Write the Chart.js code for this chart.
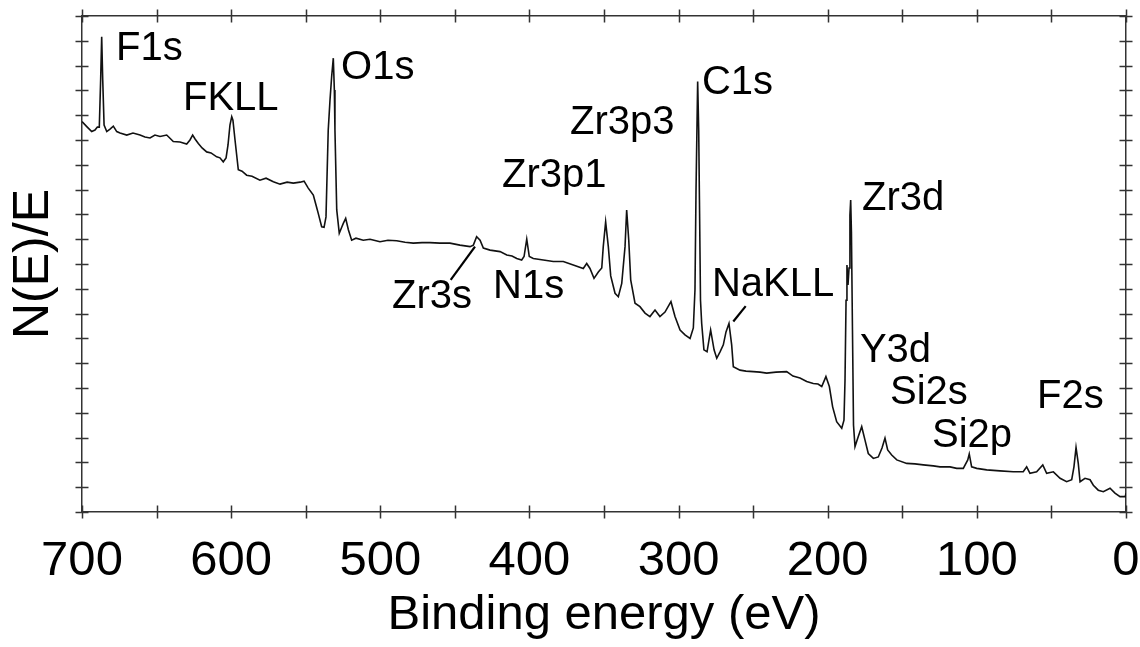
<!DOCTYPE html>
<html><head><meta charset="utf-8">
<script src="https://cdn.jsdelivr.net/npm/chart.js@4.4.0/dist/chart.umd.min.js"></script>
<style>html,body{margin:0;padding:0;background:#fff;} #wrap{width:1140px;height:647px;position:relative;}</style>
</head><body><div id="wrap"><canvas id="c"></canvas></div>
<script>
// Binding energy (eV)
const energy = [
700.0, 696.8, 693.5, 691.3, 689.7, 688.4, 687.5, 686.8, 686.1, 685.2,
683.4, 681.2, 679.0, 676.7, 674.5, 670.0, 665.8, 661.1, 657.8, 654.4,
651.1, 647.7, 643.2, 638.8, 634.3, 629.8, 627.6, 625.8, 624.2, 622.0,
619.5, 616.4, 613.5, 609.7, 607.5, 605.3, 603.4, 602.1, 600.8, 599.6,
598.8, 597.4, 595.2, 592.7, 589.6, 586.0, 580.7, 576.6, 571.7, 567.2,
562.5, 558.3, 553.8, 551.1, 548.3, 544.9, 543.1, 541.6, 539.3, 537.7,
536.4, 534.9, 533.7, 532.6, 531.5, 530.8, 530.4, 529.2, 527.5, 526.0,
524.8, 523.2, 521.4, 519.2, 516.3, 511.4, 506.9, 500.2, 494.8, 489.0,
483.4, 477.9, 472.0, 466.7, 460.0, 453.3, 446.6, 439.8, 437.6, 435.4,
433.1, 430.9, 426.4, 419.7, 415.2, 411.7, 408.5, 405.2, 403.6, 401.8,
400.1, 397.4, 390.7, 384.0, 377.3, 370.6, 363.9, 361.6, 359.4, 356.7,
353.8, 351.5, 350.5, 348.9, 347.1, 345.5, 342.6, 340.4, 338.1, 335.9,
334.8, 333.4, 332.1, 329.2, 325.9, 322.5, 319.2, 315.8, 312.5, 309.1,
305.1, 302.4, 299.0, 295.7, 292.3, 290.1, 289.0, 288.3, 287.2, 286.5,
286.0, 285.3, 284.5, 283.0, 280.9, 278.5, 276.2, 274.4, 272.2, 270.0,
268.2, 266.2, 264.4, 263.3, 258.8, 254.8, 249.9, 245.4, 240.9, 234.7,
227.5, 223.3, 218.6, 214.1, 209.7, 206.5, 204.0, 201.2, 198.9, 196.7,
194.0, 190.6, 189.1, 188.4, 187.7, 187.1, 186.4, 185.7, 185.1, 184.6,
184.1, 183.4, 182.7, 181.7, 179.5, 177.2, 175.0, 172.8, 169.4, 166.1,
163.6, 161.6, 159.8, 157.1, 153.7, 147.0, 141.5, 135.9, 129.2, 124.7,
118.0, 113.5, 109.1, 106.1, 105.1, 103.5, 100.1, 93.4, 84.5, 75.6,
68.9, 66.6, 64.4, 59.9, 55.8, 53.2, 48.7, 44.2, 39.8, 36.4,
34.9, 33.5, 32.0, 30.8, 27.5, 24.1, 21.9, 18.6, 15.2, 10.7,
7.4, 4.0, 0.5, 0.0
];
// N(E)/E, arbitrary units
const intensity = [
78.7, 77.7, 76.7, 77.0, 77.6, 77.6, 87.1, 95.8, 87.1, 78.0,
76.7, 77.2, 77.8, 76.7, 76.4, 76.0, 76.4, 76.0, 75.6, 75.4,
76.0, 75.7, 76.0, 74.7, 74.6, 74.2, 75.0, 76.0, 75.2, 74.3,
73.4, 72.6, 72.4, 71.6, 71.4, 70.6, 71.4, 74.0, 78.0, 79.7,
79.0, 75.0, 69.0, 68.7, 67.9, 67.7, 66.9, 67.3, 66.6, 66.1,
66.5, 66.3, 66.5, 66.7, 65.3, 63.9, 61.9, 60.2, 57.5, 57.4,
59.5, 77.0, 83.1, 87.8, 91.5, 85.1, 77.0, 60.9, 56.2, 57.3,
58.2, 59.2, 56.9, 54.8, 55.2, 54.8, 55.0, 54.5, 54.8, 54.7,
54.4, 54.2, 54.3, 54.3, 54.2, 54.2, 53.8, 53.5, 53.8, 55.5,
54.8, 53.2, 52.8, 52.5, 51.8, 51.6, 51.1, 50.8, 51.5, 55.0,
51.5, 51.1, 50.8, 50.5, 50.5, 49.8, 49.1, 50.1, 49.1, 47.1,
48.4, 49.2, 53.5, 58.5, 53.5, 47.6, 44.1, 43.4, 46.1, 53.5,
60.9, 54.8, 46.8, 42.1, 41.4, 40.1, 39.4, 40.7, 39.4, 40.3,
42.4, 39.4, 36.7, 35.7, 35.0, 37.1, 44.8, 64.9, 86.8, 77.0,
62.9, 42.7, 38.0, 32.7, 32.3, 36.7, 32.7, 31.0, 32.3, 33.7,
36.3, 38.0, 33.7, 29.3, 28.6, 28.4, 28.3, 28.2, 28.0, 28.2,
28.3, 27.4, 27.0, 26.3, 25.9, 25.8, 25.3, 27.3, 25.3, 21.2,
18.2, 16.9, 18.5, 26.6, 42.7, 49.8, 45.8, 49.2, 59.9, 62.9,
56.5, 36.7, 17.5, 13.2, 15.2, 17.2, 14.5, 11.8, 10.8, 11.1,
12.9, 14.9, 12.5, 11.5, 10.5, 9.8, 9.7, 9.5, 9.3, 9.1,
9.1, 8.8, 8.8, 10.5, 11.7, 9.1, 8.8, 8.5, 8.3, 8.1,
8.1, 9.1, 7.8, 8.1, 9.5, 7.8, 8.1, 6.8, 6.1, 6.5,
9.1, 13.0, 9.8, 6.1, 6.8, 6.5, 5.4, 4.4, 4.1, 4.8,
3.8, 3.1, 3.1, 3.8
];
const xTickLabels = [700, 600, 500, 400, 300, 200, 100, 0];
const peakNames = ['F1s','FKLL','O1s','Zr3p3','Zr3p1','C1s','Zr3d','NaKLL','N1s','Zr3s','Y3d','Si2s','Si2p','F2s'];

// annotation placement (data coords: energy, intensity) – layout only
const labelAnchors = [
  [677.2, 91.1], [632.3, 81.0], [526.3, 87.3], [372.8, 76.2], [418.4, 65.5],
  [284.3, 84.3], [177.0, 60.9], [277.6, 43.5], [424.4, 43.1], [492.1, 41.1],
  [178.4, 30.2], [158.2, 21.8], [130.1, 13.1], [59.7, 21.0]
];
const leaderLines = [
  [[436.5, 53.5], [452.8, 46.8]],
  [[255.0, 41.5], [263.3, 38.4]]
];

const FONT = '"Liberation Sans", Arial, Helvetica, sans-serif';
const FRAME = '#333';

const frameTicks = {
  id: 'frameTicks',
  afterDraw(chart) {
    const ctx = chart.ctx, a = chart.chartArea, L = 6.5;
    ctx.save();
    ctx.strokeStyle = FRAME; ctx.lineWidth = 1.5;
    ctx.beginPath();
    ['x', 'x2'].forEach(id => {
      const s = chart.scales[id];
      const yb = id === 'x' ? a.bottom : a.top;
      s.ticks.forEach(t => {
        const p = Math.round(s.getPixelForValue(t.value)) + 0.5;
        ctx.moveTo(p, yb - L); ctx.lineTo(p, yb + L);
      });
    });
    ['y', 'y2'].forEach(id => {
      const s = chart.scales[id];
      const xb = id === 'y' ? a.left : a.right;
      s.ticks.forEach(t => {
        const p = Math.round(s.getPixelForValue(t.value)) + 0.5;
        ctx.moveTo(xb - L, p); ctx.lineTo(xb + L, p);
      });
    });
    ctx.stroke();
    ctx.restore();
  }
};

const peakLabels = {
  id: 'peakLabels',
  afterDraw(chart) {
    const ctx = chart.ctx, xs = chart.scales.x, ys = chart.scales.y;
    ctx.save();
    ctx.fillStyle = '#000';
    ctx.font = '40px ' + FONT;
    ctx.textAlign = 'left';
    ctx.textBaseline = 'alphabetic';
    peakNames.forEach((n, i) => {
      const [e, v] = labelAnchors[i];
      ctx.fillText(n, xs.getPixelForValue(e), ys.getPixelForValue(v));
    });
    ctx.strokeStyle = '#000'; ctx.lineWidth = 2.2;
    leaderLines.forEach(([p, q]) => {
      ctx.beginPath();
      ctx.moveTo(xs.getPixelForValue(p[0]), ys.getPixelForValue(p[1]));
      ctx.lineTo(xs.getPixelForValue(q[0]), ys.getPixelForValue(q[1]));
      ctx.stroke();
    });
    ctx.restore();
  }
};

const points = energy.map((e, i) => ({ x: e, y: intensity[i] }));

const baseX = {
  type: 'linear', min: 0, max: 700, reverse: true,
  grid: { display: false },
  border: { display: true, color: FRAME, width: 1.5 }
};
const baseY = {
  type: 'linear', min: 0, max: 100,
  grid: { display: false },
  border: { display: true, color: FRAME, width: 1.5 },
  ticks: { display: false, stepSize: 5 }
};

new Chart(document.getElementById('c'), {
  type: 'line',
  data: {
    datasets: [{
      label: 'XPS survey',
      data: points,
      borderColor: '#111',
      borderWidth: 1.6,
      pointRadius: 0,
      tension: 0,
      fill: false
    }]
  },
  options: {
    responsive: true,
    maintainAspectRatio: false,
    animation: false,
    devicePixelRatio: 1,
    layout: { padding: 0 },
    plugins: { legend: { display: false }, tooltip: { enabled: false } },
    scales: {
      x: Object.assign({}, baseX, {
        position: 'bottom',
        ticks: {
          stepSize: 50, autoSkip: false, maxRotation: 0, minRotation: 0,
          padding: 12, color: '#000',
          font: { family: FONT, size: 49 },
          callback: v => xTickLabels.includes(v) ? String(v) : ''
        },
        title: {
          display: true, text: 'Binding energy (eV)', color: '#000',
          font: { family: FONT, size: 49 }, padding: { top: 0, bottom: 2 }
        },
        afterFit: s => { s.height = 135; s.paddingLeft = 0; s.paddingRight = 0; }
      }),
      x2: Object.assign({}, baseX, {
        position: 'top',
        ticks: { display: false, stepSize: 50, autoSkip: false, maxRotation: 0 },
        afterFit: s => { s.height = 16; s.paddingLeft = 0; s.paddingRight = 0; }
      }),
      y: Object.assign({}, baseY, {
        position: 'left',
        title: {
          display: true, text: 'N(E)/E', color: '#000',
          font: { family: FONT, size: 50 }, padding: { top: 4, bottom: 0 }
        },
        afterFit: s => { s.width = 82; }
      }),
      y2: Object.assign({}, baseY, {
        position: 'right',
        afterFit: s => { s.width = 14; }
      })
    }
  },
  plugins: [frameTicks, peakLabels]
});
</script>
</body></html>
